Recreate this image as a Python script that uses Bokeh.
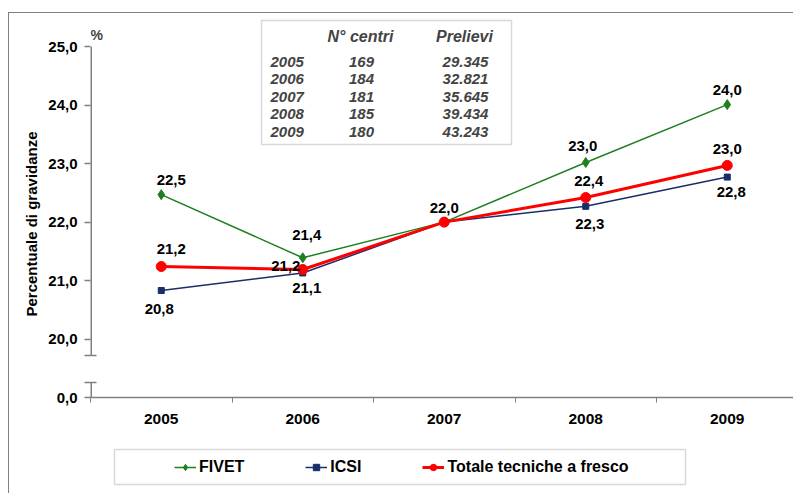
from bokeh.plotting import figure
from bokeh.layouts import column
from bokeh.models import (Range1d, FixedTicker, ColumnDataSource, Label, BoxAnnotation, Title)
from bokeh.core.properties import value
from bokeh.embed import file_html
from bokeh.resources import INLINE

# ---------------- data ----------------
years = ["2005", "2006", "2007", "2008", "2009"]
fivet = [22.47, 21.39, 22.0, 23.02, 24.01]
icsi = [20.83, 21.13, 22.0, 22.27, 22.77]
totale = [21.24, 21.19, 22.0, 22.42, 22.97]
y_ticks = [20, 21, 22, 23, 24, 25]
y_zero_label = "0,0"
y_title = "Percentuale di gravidanze"

table_headers = ["N° centri", "Prelievi"]
table_years = ["2005", "2006", "2007", "2008", "2009"]
table_centri = ["169", "184", "181", "185", "180"]
table_prelievi = ["29.345", "32.821", "35.645", "39.434", "43.243"]

# ---------------- styles / layout ----------------
GREEN = "#1f7f1f"
NAVY = "#1a2d6b"
RED = "#ff0000"
GRAY = "#808080"
FONT = "Liberation Sans"

OX, OY = 9, 13                 # canvas origin in image px (inside outer border)
W = 793 - OX                   # 784
SPLIT = 440                    # image y where the legend strip starts
H_MAIN = SPLIT - OY
H_LEG = 493 - SPLIT
F_LEFT, F_TOP, F_BOTTOM = 90, 13, 397   # main frame edges (image px)
CAT_PX = 141.5
Y_PX = 58.46
Y_BASE = 19.0                  # value standing in for the broken axis "0,0"

x_end = (793 - F_LEFT) / CAT_PX
y_end = Y_BASE + (F_BOTTOM - F_TOP) / Y_PX


def X(ix):
    return (ix - F_LEFT) / CAT_PX


def Y(iy):
    return Y_BASE + (F_BOTTOM - iy) / Y_PX


xs = [i + 0.5 for i in range(len(years))]

p = figure(width=W, height=H_MAIN, x_range=Range1d(0, x_end), y_range=Range1d(Y_BASE, y_end),
           output_backend="svg", toolbar_location=None,
           min_border_left=F_LEFT - OX, min_border_right=0, min_border_top=F_TOP - OY,
           min_border_bottom=OY + H_MAIN - F_BOTTOM)
p.xgrid.visible = False
p.ygrid.visible = False
p.outline_line_color = None

# x axis
xa = p.xaxis[0]
xa.ticker = FixedTicker(ticks=xs, minor_ticks=list(range(len(years) + 1)))
xa.major_label_overrides = {x: y for x, y in zip(xs, years)}
xa.major_tick_out = 0
xa.major_tick_in = 0
xa.minor_tick_out = 5
xa.minor_tick_in = 0
xa.minor_tick_line_color = GRAY
xa.axis_line_color = GRAY
xa.axis_line_width = 1.5
xa.major_label_standoff = 11
xa.major_label_text_font = FONT
xa.major_label_text_font_style = "bold"
xa.major_label_text_font_size = "15.5px"
xa.major_label_text_color = "black"

# y axis (broken)
brk_hi = Y(355)
brk_lo = Y(382)
ya = p.yaxis[0]
ya.ticker = FixedTicker(ticks=[Y_BASE] + y_ticks, minor_ticks=[brk_lo, brk_hi])
ov = {float(t): f"{t:.1f}".replace(".", ",") for t in y_ticks}
ov[float(Y_BASE)] = y_zero_label
ya.major_label_overrides = ov
ya.major_tick_out = 6
ya.major_tick_in = 0
ya.major_tick_line_color = GRAY
ya.major_tick_line_width = 1.5
ya.minor_tick_out = 6
ya.minor_tick_in = 6
ya.minor_tick_line_color = GRAY
ya.minor_tick_line_width = 1.5
ya.axis_line_alpha = 0
ya.major_label_standoff = 7
ya.major_label_text_font = FONT
ya.major_label_text_font_style = "bold"
ya.major_label_text_font_size = "15px"
ya.major_label_text_color = "black"

# y title, starting from the bottom of the frame and shifted up
p.add_layout(Title(text=y_title, align="left", offset=81, standoff=11,
                   text_font=FONT, text_font_style="bold", text_font_size="15px",
                   text_color="black"), "left")

# broken axis line (drawn at the frame edge; half of width is clipped)
p.segment(x0=[0, 0], y0=[y_ticks[-1], brk_lo], x1=[0, 0], y1=[brk_hi, Y_BASE],
          line_color=GRAY, line_width=3)

p.add_layout(Label(x=X(90), y=Y(34), text="%", text_align="left", text_baseline="middle",
                   text_font=FONT, text_font_style="bold", text_font_size="14px"))

# series
STY = {
    "FIVET": dict(color=GREEN, lw=1.5, marker="diamond", size=10),
    "ICSI": dict(color=NAVY, lw=1.5, marker="square", size=6),
    "Totale tecniche a fresco": dict(color=RED, lw=3, marker="circle", size=10),
}
series = [("FIVET", fivet), ("ICSI", icsi), ("Totale tecniche a fresco", totale)]
for name, vals in series:
    s = STY[name]
    p.line(xs, vals, line_color=s["color"], line_width=s["lw"])
    p.scatter(xs, vals, marker=s["marker"], size=s["size"], fill_color=s["color"], line_color=s["color"])

# data labels (dx right, dy up, in px); None = no label
off_f = [(10, 15), (4, 23), (0, 14), (-3, 16), (0, 15)]
off_i = [(-2, -18), (4, -15), None, (4, -18), (4, -15)]
off_t = [(10, 18), (-17, 3), None, (3, 17), (0, 16)]
lx, ly, lt, lxo, lyo = [], [], [], [], []
for vals, offs in ((fivet, off_f), (icsi, off_i), (totale, off_t)):
    for x, v, o in zip(xs, vals, offs):
        if o is None:
            continue
        lx.append(x)
        ly.append(v)
        lt.append(f"{v:.1f}".replace(".", ","))
        lxo.append(o[0])
        lyo.append(-o[1])
p.text(x="x", y="y", text="t", x_offset="xo", y_offset="yo",
       source=ColumnDataSource(dict(x=lx, y=ly, t=lt, xo=lxo, yo=lyo)),
       text_align="center", text_baseline="middle", text_font=value(FONT),
       text_font_style="bold", text_font_size="15px", text_color="black")

# table
p.add_layout(BoxAnnotation(left=X(261), right=X(511), top=Y(20), bottom=Y(144),
                           fill_alpha=0, line_color=GRAY, line_width=1.5))
for txt, cx in zip(table_headers, (360, 464)):
    p.add_layout(Label(x=X(cx), y=Y(36), text=txt, text_align="center", text_baseline="middle",
                       text_font=FONT, text_font_style="bold italic", text_font_size="16px"))
row_y = [61, 78.5, 96, 113.5, 131]
for yr, c, pr, ry in zip(table_years, table_centri, table_prelievi, row_y):
    p.add_layout(Label(x=X(270), y=Y(ry), text=yr, text_align="left", text_baseline="middle",
                       text_font=FONT, text_font_style="bold italic", text_font_size="15px"))
    p.add_layout(Label(x=X(361), y=Y(ry), text=c, text_align="center", text_baseline="middle",
                       text_font=FONT, text_font_style="bold italic", text_font_size="15px"))
    p.add_layout(Label(x=X(465), y=Y(ry), text=pr, text_align="center", text_baseline="middle",
                       text_font=FONT, text_font_style="bold italic", text_font_size="15px"))

# ---------------- legend strip (same frame columns as the main plot) ----------------
Q_TOP, Q_BOTTOM = 445, 489                 # strip frame (image px)
LB_L, LB_R, LB_T, LB_B = 114, 685, 449, 484  # legend box (image px)


def QY(iy):
    return (Q_BOTTOM - iy) / (Q_BOTTOM - Q_TOP)


q = figure(width=W, height=H_LEG, x_range=Range1d(0, x_end), y_range=Range1d(0, 1),
           output_backend="svg", toolbar_location=None,
           x_axis_location=None, y_axis_location=None,
           min_border_left=F_LEFT - OX, min_border_right=0,
           min_border_top=Q_TOP - SPLIT, min_border_bottom=493 - Q_BOTTOM)
q.xgrid.visible = False
q.ygrid.visible = False
q.outline_line_color = None
q.add_layout(BoxAnnotation(left=X(LB_L), right=X(LB_R), top=QY(LB_T), bottom=QY(LB_B),
                           fill_alpha=0, line_color=GRAY, line_width=1.5))
# legend renderers: the same series, lying outside this strip's y range (not visible here)
for name, vals in series:
    s = STY[name]
    q.line(xs, vals, line_color=s["color"], line_width=s["lw"], legend_label=name)
    q.scatter(xs, vals, marker=s["marker"], size=s["size"], fill_color=s["color"],
              line_color=s["color"], legend_label=name)
lg = q.legend[0]
lg.orientation = "horizontal"
lg.location = (174 - F_LEFT, 13)
lg.label_text_font = FONT
lg.label_text_font_style = "bold"
lg.label_text_font_size = "16px"
lg.label_text_color = "black"
lg.glyph_width = 22
lg.glyph_height = 16
lg.label_standoff = 3
lg.spacing = 61
lg.padding = 0
lg.margin = 0
lg.border_line_alpha = 0
lg.background_fill_alpha = 0

layout = column(p, q, spacing=0, margin=(OY - 1, 0, 0, OX - 1),
                styles={"border-left": "1px solid #808080", "border-top": "1px solid #808080"})

open("out.html", "w").write(file_html(layout, INLINE))
